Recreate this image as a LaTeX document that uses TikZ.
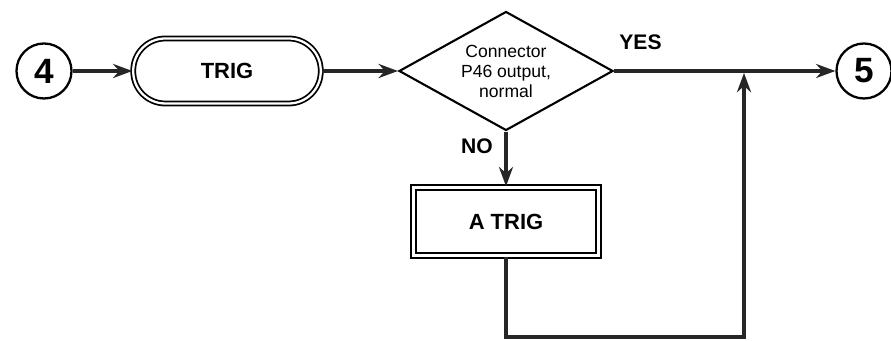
\documentclass[tikz,border=0pt]{standalone}
\usepackage{fontspec}
\setmainfont{Liberation Sans}
\usetikzlibrary{arrows.meta,shapes.geometric,positioning}

\begin{document}
\begin{tikzpicture}[node distance=3cm,>={Stealth[length=11pt,width=8pt]}]
		\tikzstyle{connector}=[circle, draw=black, line width=1.3pt, minimum size=1.1cm, inner sep=0pt, font=\fontsize{20}{20}\selectfont\bfseries]
		\tikzstyle{terminal}=[rectangle, rounded corners=0.64cm, draw=black, double, double distance=1.3pt, line width=1pt, minimum width=3.75cm, minimum height=1.3cm, font=\fontsize{12.5}{14}\selectfont\bfseries]
		\tikzstyle{decision}=[diamond, draw=black, line width=1.2pt, aspect=1.8, inner sep=0pt, minimum width=4.28cm, minimum height=2.38cm, align=center, font=\fontsize{10}{11.4}\selectfont]
		\tikzstyle{process}=[rectangle, draw=black, double, double distance=1.8pt, line width=1.1pt, minimum width=3.69cm, minimum height=1.37cm, font=\fontsize{12.5}{14}\selectfont\bfseries]
		\tikzstyle{answer}=[inner sep=0pt, font=\fontsize{12}{14}\selectfont\bfseries]
		\tikzstyle{flow}=[->, line width=2.2pt, draw=black!85]

		\useasboundingbox (0,0) rectangle (17.82,6.82);

		\node [connector] (c4) at (0.88,5.40) {4};
		\node [terminal] (trig) [right of=c4, node distance=3.66cm] {TRIG};
		\node [decision] (dia) [right of=trig, node distance=5.58cm] {Connector\\P46 output,\\normal};
		\node [process] (atrig) [below of=dia, node distance=3.01cm] {A TRIG};
		\node [connector] (c5) [right of=dia, node distance=7.16cm] {5};
		\node [answer] (no) [below left=0.14cm and 0.26cm of dia.south] {NO};
		\node [answer] (yes) [above right=0.42cm and 0.1cm of dia.east] {YES};
		\coordinate [below of=atrig, node distance=2.31cm] (turn);
		\coordinate [right of=dia, node distance=4.76cm] (join);

		\draw [flow] (c4) -- (trig);
		\draw [flow] (trig) -- (dia);
		\draw [flow] (dia) -- (atrig);
		\draw [flow] (dia) -- (c5);
		\draw [flow, shorten >=1.1pt] (atrig) -- (turn) -| (join);
	\end{tikzpicture}
\end{document}
